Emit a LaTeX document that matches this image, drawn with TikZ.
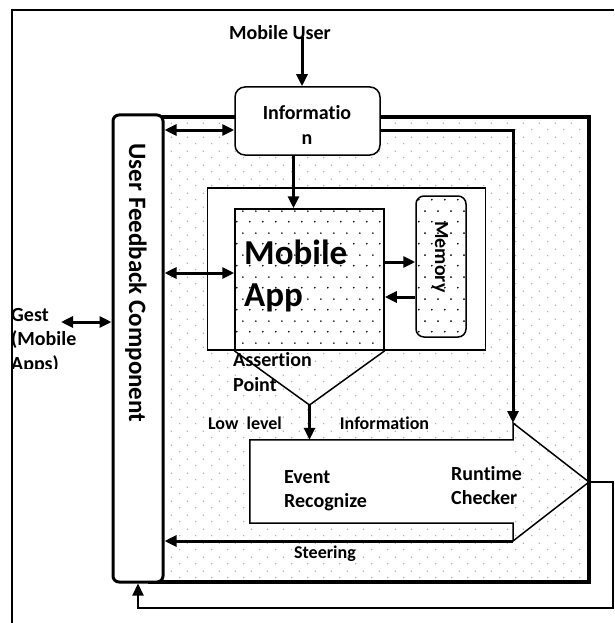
\documentclass[tikz,border=0pt]{standalone}
\usepackage{fontspec}
\setmainfont{Carlito}[Ligatures={NoCommon}]
\usetikzlibrary{arrows.meta,patterns}
\pgfdeclarepatternformonly{bgdots}{\pgfqpoint{0pt}{0pt}}{\pgfqpoint{16pt}{14pt}}{\pgfqpoint{16pt}{14pt}}{%
  \pgfpathcircle{\pgfqpoint{4pt}{3.5pt}}{0.75pt}%
  \pgfpathcircle{\pgfqpoint{12pt}{10.5pt}}{0.75pt}%
  \pgfusepath{fill}}
\pgfdeclarepatternformonly{appdots}{\pgfqpoint{0pt}{0pt}}{\pgfqpoint{13pt}{22pt}}{\pgfqpoint{13pt}{22pt}}{%
  \pgfpathcircle{\pgfqpoint{3pt}{5.5pt}}{1pt}%
  \pgfpathcircle{\pgfqpoint{9.5pt}{16.5pt}}{1pt}%
  \pgfusepath{fill}}
\tikzset{
  frameline/.style={line width=1.6},
  thinbox/.style={draw, line width=1.5, inner sep=0},
  arr/.style={line width=3, -{Triangle[length=12pt,width=11pt]}},
  darr/.style={line width=3, {Triangle[length=12pt,width=11pt]}-{Triangle[length=12pt,width=11pt]}},
  lbl/.style={font=\fontsize{20}{24}\bfseries\selectfont, inner sep=0},
  slbl/.style={font=\fontsize{18}{22}\bfseries\selectfont, inner sep=0},
  bigl/.style={font=\fontsize{35}{40}\bfseries\selectfont, inner sep=0},
}
\begin{document}
\begin{tikzpicture}[x=1pt,y=-1pt]
\useasboundingbox (0,0) rectangle (614,623);
% outer frame
\draw[frameline] (12,623) -- (12,10) -- (614,10);
% big dotted thick box
\node[draw, line width=4.5, pattern=bgdots, pattern color=black!40, minimum width=439, minimum height=465, inner sep=0] (big) at (369.5,349.5) {};
% user feedback component
\node[draw, fill=white, line width=3, rounded corners=6, minimum width=50, minimum height=467, inner sep=0] (ufc) at (138,348.5) {};
\node[lbl, font=\fontsize{25}{29}\bfseries\selectfont, rotate=-90] (ufct) at (136,283) {User Feedback Component};
% information
\node[thinbox, fill=white, rounded corners=10, minimum width=145, minimum height=68] (info) at (307.5,121) {};
\node[lbl] (info1) at (307,113) {Informatio};
\node[lbl] (info2) at (307,140) {n};
\node[lbl] (muser) at (280,33) {Mobile User};
% inner white box
\node[thinbox, fill=white, minimum width=278, minimum height=162] (inner) at (346.5,269) {};
% mobile app
\node[thinbox, pattern=appdots, pattern color=black, minimum width=149, minimum height=141] (app) at (309.5,279.5) {};
\node[bigl, anchor=west] (app1) at (244,252) {Mobile};
\node[bigl, anchor=west] (app2) at (244,298) {App};
% memory
\node[thinbox, pattern=appdots, pattern color=black, rounded corners=8, minimum width=50, minimum height=141] (mem) at (441,266.5) {};
\node[lbl, rotate=-90] (memt) at (440,257) {Memory};
% assertion point triangle
\coordinate (apex) at (309.5,405);
\draw[line width=1.5] (app.south west) -- (apex) -- (app.south east);
\node[lbl, anchor=west] (as1) at (233,360) {Assertion};
\node[lbl, anchor=west] (as2) at (233,385) {Point};
% event / runtime arrow shape
\node[fill=white, minimum width=263, minimum height=83, inner sep=0] (evbody) at (381.5,481.5) {};
\coordinate (notch) at (513,423);
\coordinate (tip) at (589,482);
\coordinate (lownotch) at (513,541);
\draw[line width=1.5] (evbody.north west) -- (evbody.north east) -- (notch) -- (tip) -- (lownotch) -- (evbody.south east) -- (evbody.south west) -- cycle;
\node[lbl, anchor=west] (ev1) at (284,477) {Event};
\node[lbl, anchor=west] (ev2) at (284,502) {Recognize};
\node[lbl, anchor=west] (rc1) at (451,474) {Runtime};
\node[lbl, anchor=west] (rc2) at (451,498) {Checker};
\node[slbl] (low) at (245,423) {Low\ \ level};
\node[slbl] (linfo) at (384.5,423) {Information};
\node[slbl] (steer) at (325,554) {Steering};
% gest
\begin{scope}
\clip (0,295) rectangle (112,368);
\node[lbl, anchor=west] (g1) at (11,315) {Gest};
\node[lbl, anchor=west] (g2) at (11,340) {(Mobile};
\node[lbl, anchor=west] (g3) at (11,365) {Apps)};
\end{scope}
% connectors
\draw[arr] (302,37) -- (info.north -| 302,0);
\path ([yshift=-9pt]info.west) coordinate (infoL);
\path ([yshift=-9pt]info.east) coordinate (infoR);
\draw[darr] (ufc.east |- infoL) -- (infoL);
\draw[arr] (infoR) -| (notch);
\draw[arr] (info.south -| 293.5,0) -- (app.north -| 293.5,0);
\coordinate (appL) at (app.west |- 0,273);
\draw[darr] (ufc.east |- appL) -- (appL);
\draw[arr] (app.east |- 0,262) -- (mem.west |- 0,262);
\draw[arr] (mem.west |- 0,297) -- (app.east |- 0,297);
\draw[arr] (apex) -- (evbody.north -| apex);
\draw[arr] (lownotch) -- (ufc.east |- lownotch);
\coordinate (fbR) at (613,608);
\draw[arr, line width=2.2] (tip) -| (fbR) -| (ufc.south);
\coordinate (gestA) at (61,322);
\draw[darr] (gestA) -- (ufc.west |- gestA);
\end{tikzpicture}
\end{document}
